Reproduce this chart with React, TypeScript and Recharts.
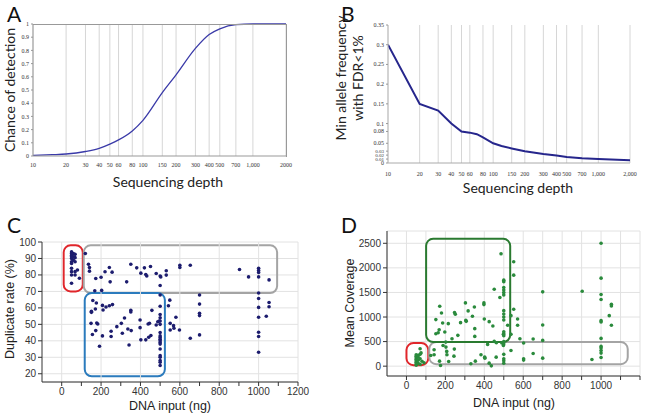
import React from 'react'
import {
  LineChart, Line, ScatterChart, Scatter, XAxis, YAxis, CartesianGrid,
  ReferenceArea, ReferenceLine,
} from 'recharts'

// Panel A: chance of detection vs sequencing depth
const depthTicks = [10, 20, 30, 40, 50, 60, 80, 100, 150, 200, 300, 400, 500, 700, 1000, 2000]
const detectionDepth = [10, 15, 20, 30, 40, 50, 60, 80, 100, 150, 200, 300, 400, 500, 700, 1000, 2000]
const detectionChance = [0.005, 0.01, 0.015, 0.034, 0.058, 0.09, 0.122, 0.19, 0.27, 0.48, 0.615, 0.815, 0.92, 0.963, 0.995, 1, 1]
const chanceTicks = [0, 0.1, 0.2, 0.3, 0.4, 0.5, 0.6, 0.7, 0.8, 0.9, 1]

// Panel B: min allele frequency with FDR<1%
const fdrDepth = [10, 20, 30, 40, 50, 60, 70, 80, 100, 120, 150, 200, 300, 400, 500, 700, 1000, 2000]
const fdrMinFreq = [0.3, 0.15, 0.133, 0.1, 0.08, 0.077, 0.073, 0.065, 0.05, 0.043, 0.037, 0.03, 0.023, 0.019, 0.015, 0.012, 0.01, 0.007]
const freqTicks = [0, 0.01, 0.02, 0.03, 0.05, 0.08, 0.1, 0.15, 0.2, 0.25, 0.3, 0.35]

// Panel C: duplicate rate vs DNA input
const dupPoints: [number, number][] = [
  [50, 94], [50, 93], [50, 92], [50, 91], [50, 90], [50, 88], [50, 87], [50, 84], [50, 82], [50, 80], [50, 75],
  [59, 93], [59, 91], [59, 89], [68, 92.5], [68, 90.5], [68, 88], [68, 82], [68, 80], [80, 83], [90, 78], [120, 93],
  [136, 86.5], [141, 84.5], [141, 82.3], [173, 77.8], [200, 78.6], [168, 70.4], [203, 70.6], [220, 81.9], [242, 84.5],
  [246, 75.8], [256, 81.7], [330, 75.8], [351, 86.5], [381, 84.3], [402, 81.1], [420, 84.3], [427, 80.3], [432, 79.4],
  [451, 85.1], [480, 80.9], [500, 79.4], [503, 78.8], [531, 82.5], [531, 79.9], [600, 85.9], [600, 84.5], [653, 85.9],
  [903, 83.3], [949, 78.8], [1000, 84], [1000, 82.7], [1000, 81.5], [1000, 78.8], [1053, 77], [500, 73.6],
  [158, 64.5], [176, 63], [171, 59.3], [151, 57.9], [151, 57.3], [207, 61.5], [225, 60.5], [242, 61.3], [258, 62],
  [210, 58.7], [149, 50.6], [178, 50.8], [183, 50.2], [156, 43.8], [173, 46.2], [207, 43], [192, 36.7], [251, 45.8],
  [251, 42.6], [280, 48.6], [303, 50.6], [308, 44.6], [319, 53.9], [336, 47.2], [342, 37.5], [351, 58.5], [351, 57.5],
  [353, 46.2], [398, 52.6], [398, 48], [402, 40.6], [427, 40.6], [439, 50.2], [446, 50.6], [442, 42.2], [453, 43.2],
  [458, 58.5], [480, 49.6], [488, 51.6], [495, 52],
  [500, 67.8], [500, 61], [500, 56], [500, 54], [500, 52], [500, 50], [500, 45], [500, 43], [500, 42], [500, 41],
  [500, 40], [500, 39], [500, 38], [500, 35], [500, 31], [500, 30], [500, 28], [500, 27], [500, 25],
  [549, 64.7], [542, 61.3], [551, 50.6], [551, 46.6], [568, 49.2], [570, 47.6], [580, 54.3], [598, 46.6], [653, 41.6],
  [700, 67.8], [700, 62.3], [700, 56.7], [700, 55.3], [700, 43.6],
  [1000, 69], [1000, 65.7], [1000, 60.3], [1000, 54.3], [1000, 45.2], [1000, 42.6], [1000, 33.1],
  [1039, 54.9], [1053, 63.3], [1053, 60.7],
]
const inputTicks = [0, 100, 200, 300, 400, 500, 600, 700, 800, 900, 1000, 1100, 1200]
const dupGridX = [0, 200, 400, 600, 800, 1000, 1200]
const dupTicks = [20, 30, 40, 50, 60, 70, 80, 90, 100]

// Panel D: mean coverage vs DNA input
const covPoints: [number, number][] = [
  [50, 20], [50, 50], [50, 80], [50, 110], [50, 140], [50, 170], [50, 200], [50, 230],
  [60, 60], [60, 120], [60, 180], [60, 220], [70, 40], [70, 150], [70, 240], [70, 354], [75, 270], [80, 100], [90, 70],
  [125, 218], [142, 334], [142, 231], [151, 661], [151, 947], [163, 681], [168, 742], [171, 1219], [170, 102], [175, 14],
  [180, 1083], [186, 878], [188, 422], [197, 695], [202, 490], [203, 388], [207, 300], [208, 232], [215, 865], [217, 95],
  [234, 558], [244, 204], [246, 347], [247, 1090], [251, 1056], [264, 627], [278, 885], [303, 1287], [305, 933],
  [307, 912], [317, 1124], [331, 48], [339, 1015], [349, 1205], [351, 763], [351, 606], [354, 102], [383, 232],
  [398, 1287], [398, 1253], [400, 960], [402, 184], [403, 163], [417, 443], [425, 906], [425, 61], [436, 7],
  [444, 817], [451, 1566], [451, 504], [461, 184], [462, 477], [480, 1396], [486, 2288], [490, 470], [498, 647], [498, 422],
  [500, 1750], [500, 1720], [500, 1600], [500, 1550], [500, 1500], [500, 1450], [500, 1130], [500, 1060], [500, 1000],
  [500, 940], [500, 700], [500, 660], [500, 620], [500, 500], [500, 450], [500, 240], [500, 150], [500, 110], [500, 60],
  [520, 831], [537, 1028], [537, 647], [537, 320], [551, 2125], [551, 1852], [551, 1158], [571, 960], [571, 831],
  [583, 558], [602, 470], [602, 150], [602, 123], [651, 552], [651, 259], [700, 1512], [700, 838], [700, 524], [700, 163],
  [903, 1525], [953, 136], [1000, 2500], [1000, 1791], [1000, 1457], [1000, 1355], [1000, 926], [1000, 899], [1000, 565],
  [1000, 402], [1000, 368], [1000, 320], [1000, 266], [1000, 177], [1042, 1028], [1053, 1260], [1053, 1226], [1053, 831],
]
const covTicks = [0, 500, 1000, 1500, 2000, 2500]

const detectionData = detectionDepth.map((d, i) => ({ depth: d, chance: detectionChance[i] }))
const fdrData = fdrDepth.map((d, i) => ({ depth: d, freq: fdrMinFreq[i] }))
const dupData = dupPoints.map(([x, y]) => ({ x, y }))
const covData = covPoints.map(([x, y]) => ({ x, y }))

const serifTick = { fontSize: 6, fontFamily: 'Liberation Serif', fill: '#333' }
const smallSerifTick = { fontSize: 5, fontFamily: 'Liberation Serif', fill: '#333' }
const sansTick = { fontSize: 10, fontFamily: 'Liberation Sans', fill: '#333' }

const abs = (left: number, top: number): React.CSSProperties => ({ position: 'absolute', left, top })

function PanelLetter({ x, y, children }: { x: number; y: number; children: string }) {
  return (
    <div style={{ ...abs(x, y), fontFamily: 'Lato', fontSize: 21, lineHeight: 1, color: '#111' }}>{children}</div>
  )
}

function Title({ x, y, size, font, rotate, children }: {
  x: number; y: number; size: number; font: string; rotate?: boolean; children: React.ReactNode
}) {
  return (
    <div style={{
      ...abs(x, y), fontFamily: font, fontSize: size, lineHeight: 1.2, color: '#222', whiteSpace: 'nowrap',
      textAlign: 'center', transform: `translate(-50%, -50%)${rotate ? ' rotate(-90deg)' : ''}`,
    }}>
      {children}
    </div>
  )
}

const roundedBox = (color: string) => (p: any) => (
  <rect x={p.x} y={p.y} width={p.width} height={p.height} rx={7} ry={7}
    fill="none" stroke={color} strokeWidth={2} />
)

const dot = (color: string) => (p: any) => <circle cx={p.cx} cy={p.cy} r={1.8} fill={color} />

const depthLabel = (comma: boolean) => (v: number) =>
  v === 1000 ? '1,000' : v === 2000 ? (comma ? '2,000' : '2000') : String(v)

const freqTick = (p: any) => {
  const v = p.payload.value
  const crowded = v > 0 && v < 0.05
  return (
    <text x={p.x} y={p.y} dy={2} textAnchor="end" {...(crowded ? smallSerifTick : serifTick)}>{String(v)}</text>
  )
}

export default function App() {
  return (
    <div style={{ position: 'fixed', left: 0, top: 0, width: 648, height: 419, background: '#fff', overflow: 'hidden' }}>
      {/* A */}
      <div style={abs(0, 0)}>
        <LineChart width={324} height={200} data={detectionData} margin={{ top: 24, right: 38, bottom: 32, left: 15 }}>
          <CartesianGrid horizontal={false} stroke="#d6d6d6" />
          <XAxis dataKey="depth" type="number" scale="log" domain={[10, 2000]} ticks={depthTicks} interval={0}
            tick={serifTick} tickLine={false} axisLine={{ stroke: '#999' }} height={12} tickMargin={1}
            tickFormatter={depthLabel(false)} allowDataOverflow />
          <YAxis type="number" domain={[0, 1]} ticks={chanceTicks} interval={0} tick={serifTick} width={18}
            tickSize={2} tickLine={{ stroke: '#999' }} axisLine={{ stroke: '#999' }} />
          <Line dataKey="chance" type="monotone" stroke="#3a3aa8" strokeWidth={1.3} dot={false} isAnimationActive={false} />
        </LineChart>
      </div>
      {/* plot frame of panel A */}
      <div style={{ ...abs(33, 24), width: 253, height: 132, borderTop: '1px solid #999', borderRight: '1px solid #999', pointerEvents: 'none' }} />
      <PanelLetter x={7} y={3}>A</PanelLetter>
      <Title x={168} y={182} size={14} font="Lato">Sequencing depth</Title>
      <Title x={10} y={90} size={14} font="Lato" rotate>Chance of detection</Title>

      {/* B */}
      <div style={abs(324, 0)}>
        <LineChart width={324} height={210} data={fdrData} margin={{ top: 25, right: 18, bottom: 37, left: 42 }}>
          <CartesianGrid horizontal={false} stroke="#d6d6d6" />
          <XAxis dataKey="depth" type="number" scale="log" domain={[10, 2000]} ticks={depthTicks} interval={0}
            tick={serifTick} tickLine={false} axisLine={{ stroke: '#aaa' }} height={10} tickMargin={3}
            tickFormatter={depthLabel(true)} allowDataOverflow />
          <YAxis type="number" domain={[0, 0.35]} ticks={freqTicks} interval={0} tick={freqTick} width={22}
            tickSize={2} tickLine={{ stroke: '#999' }} axisLine={{ stroke: '#bbb' }} />
          <Line dataKey="freq" type="linear" stroke="#26268c" strokeWidth={2} dot={false} isAnimationActive={false} />
        </LineChart>
      </div>
      <PanelLetter x={341} y={3}>B</PanelLetter>
      <Title x={518} y={188} size={14} font="Lato">Sequencing depth</Title>
      <Title x={350} y={78} size={14} font="Lato" rotate>
        <div>Min allele frequency</div>
        <div>with FDR&lt;1%</div>
      </Title>

      {/* C */}
      <div style={abs(0, 210)}>
        <ScatterChart width={324} height={209} margin={{ top: 32, right: 26, bottom: 17, left: 12 }}>
          <CartesianGrid vertical={false} stroke="#e2e2e2" />
          {dupGridX.map(v => <ReferenceLine key={v} x={v} stroke="#e2e2e2" />)}
          <XAxis dataKey="x" type="number" domain={[-100, 1200]} ticks={inputTicks} interval={0}
            tick={sansTick} tickSize={4} tickLine={{ stroke: '#333' }} axisLine={{ stroke: '#333' }} height={20}
            tickFormatter={(v: number) => (v % 200 === 0 ? String(v) : '')} />
          <YAxis dataKey="y" type="number" domain={[15, 100]} ticks={dupTicks} interval={0}
            tick={sansTick} tickSize={4} tickLine={{ stroke: '#333' }} axisLine={{ stroke: '#333' }} width={30} />
          <Scatter data={dupData} shape={dot('#1c1c6e')} isAnimationActive={false} />
          <ReferenceArea x1={10} x2={107} y1={70} y2={98} shape={roundedBox('#e0262b')} />
          <ReferenceArea x1={112} x2={1094} y1={69} y2={98} shape={roundedBox('#a4a4a4')} />
          <ReferenceArea x1={117} x2={524} y1={18.5} y2={69} shape={roundedBox('#2b7bbd')} />
        </ScatterChart>
      </div>
      <PanelLetter x={7} y={214}>C</PanelLetter>
      <Title x={170} y={406} size={12.5} font="Liberation Sans">DNA input (ng)</Title>
      <Title x={10} y={309} size={12.5} font="Liberation Sans" rotate>Duplicate rate (%)</Title>

      {/* D */}
      <div style={abs(324, 210)}>
        <ScatterChart width={324} height={209} margin={{ top: 21, right: 8, bottom: 23, left: 33 }}>
          <CartesianGrid stroke="#e2e2e2" />
          <XAxis dataKey="x" type="number" domain={[-100, 1200]} ticks={inputTicks} interval={0}
            tick={sansTick} tickSize={4} tickLine={{ stroke: '#333' }} axisLine={{ stroke: '#333' }} height={20}
            tickFormatter={(v: number) => (v % 200 === 0 && v < 1200 ? String(v) : '')} />
          <YAxis dataKey="y" type="number" domain={[-200, 2750]} ticks={covTicks} interval={0}
            tick={sansTick} tickSize={4} tickLine={{ stroke: '#333' }} axisLine={{ stroke: '#333' }} width={30} />
          <Scatter data={covData} shape={dot('#2a8a3c')} isAnimationActive={false} />
          <ReferenceArea x1={0} x2={112} y1={20} y2={470} shape={roundedBox('#e0262b')} />
          <ReferenceArea x1={117} x2={1137} y1={40} y2={490} shape={roundedBox('#a4a4a4')} />
          <ReferenceArea x1={101} x2={533} y1={490} y2={2590} shape={roundedBox('#2a7a30')} />
        </ScatterChart>
      </div>
      <PanelLetter x={341} y={214}>D</PanelLetter>
      <Title x={514} y={403} size={12.5} font="Liberation Sans">DNA input (ng)</Title>
      <Title x={350} y={303} size={12.5} font="Liberation Sans" rotate>Mean Coverage</Title>
    </div>
  )
}
